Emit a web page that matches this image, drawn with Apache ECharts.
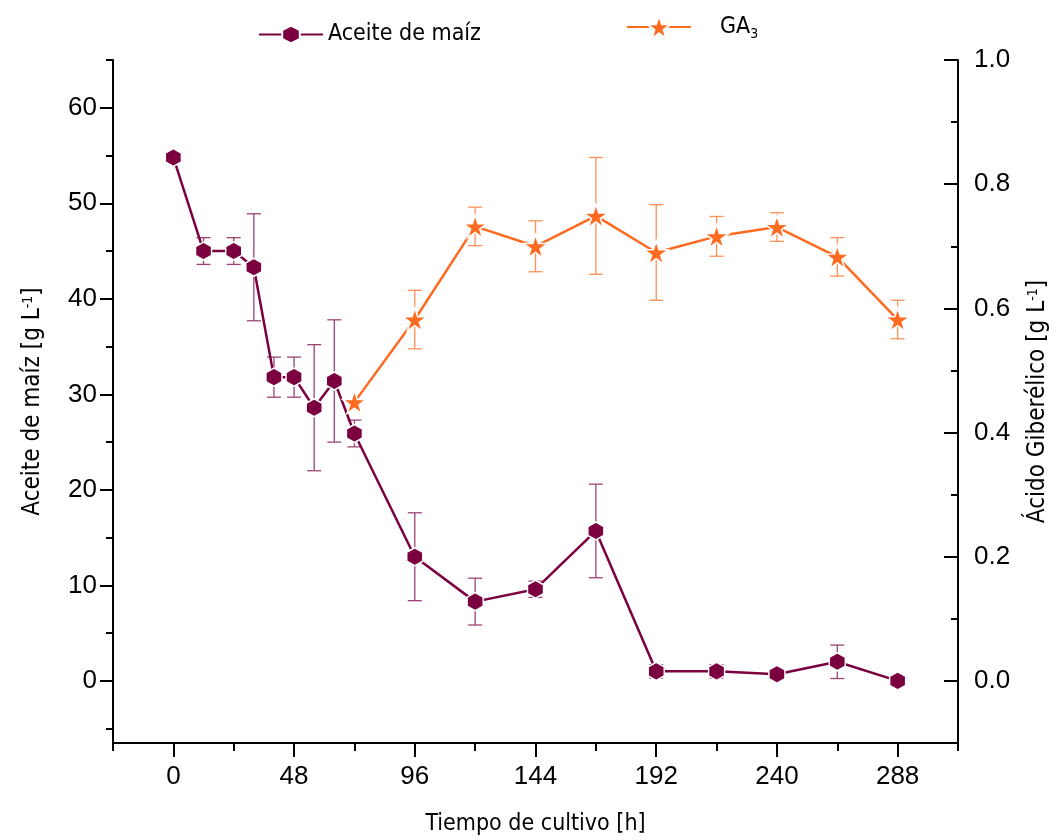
<!DOCTYPE html>
<html>
<head>
<meta charset="utf-8">
<title>Aceite de maíz / GA3</title>
<script src="https://cdn.jsdelivr.net/npm/echarts@6/dist/echarts.min.js"></script>
<style>
  html, body { margin: 0; padding: 0; background: #fff; }
  #chart { width: 1063px; height: 840px; }
</style>
</head>
<body>
<div id="chart"></div>
<script>
  // datos
  var tiempoAceite = [0, 12, 24, 32, 40, 48, 56, 64, 72, 96, 120, 144, 168, 192, 216, 240, 264, 288]
  var aceite = [54.8, 45.0, 45.0, 43.3, 31.8, 31.8, 28.6, 31.4, 25.9, 13.0, 8.3, 9.6, 15.7, 1.0, 1.0, 0.7, 2.0, 0.0]
  var aceiteErr = [0, 1.4, 1.4, 5.6, 2.1, 2.1, 6.6, 6.4, 1.4, 4.6, 2.45, 0.85, 4.9, 0.7, 0.7, 0, 1.75, 0]

  var tiempoGA = [72, 96, 120, 144, 168, 192, 216, 240, 264, 288]
  var ga3 = [0.449, 0.582, 0.732, 0.700, 0.749, 0.690, 0.716, 0.731, 0.683, 0.582]
  var ga3Err = [0, 0.047, 0.031, 0.041, 0.094, 0.077, 0.032, 0.023, 0.031, 0.031]

  // ticks
  var xMajor = [0, 48, 96, 144, 192, 240, 288]
  var xMinor = [-24, 24, 72, 120, 168, 216, 264, 312]
  var yLeftMajor = [0, 10, 20, 30, 40, 50, 60]
  var yLeftMinor = [-5, 5, 15, 25, 35, 45, 55, 65]
  var yRightMajor = [0, 0.2, 0.4, 0.6, 0.8, 1.0]
  var yRightMinor = [-0.1, 0.1, 0.3, 0.5, 0.7, 0.9]

  var COLOR_ACEITE = '#7b0040'
  var COLOR_GA = '#ff6a21'
  var NARROW = "'Liberation Sans Narrow', 'DejaVu Sans Condensed', sans-serif"
  var ARIAL = "'Liberation Sans', Arial, sans-serif"

  var hexagon = 'path://M0,-10L8.66,-5L8.66,5L0,10L-8.66,5L-8.66,-5Z'
  var star = 'path://M0,-100L22.45,-30.9L95.1,-30.9L36.3,11.8L58.8,80.9L0,38.2L-58.8,80.9L-36.3,11.8L-95.1,-30.9L-22.45,-30.9Z'

  function pares(xs, ys) {
    return xs.map(function (x, i) { return [x, ys[i]] })
  }
  function trios(xs, ys, es) {
    return xs.map(function (x, i) { return [x, ys[i], es[i]] })
  }

  // barras de error
  function errorBar(color) {
    return function (params, api) {
      var e = api.value(2)
      if (!e) return null
      var x = api.value(0), y = api.value(1)
      var top = api.coord([x, y + e])
      var bot = api.coord([x, y - e])
      var w = 7
      var st = { stroke: color, lineWidth: 1.3 }
      return {
        type: 'group',
        children: [
          { type: 'line', shape: { x1: top[0], y1: top[1], x2: bot[0], y2: bot[1] }, style: st },
          { type: 'line', shape: { x1: top[0] - w, y1: top[1], x2: top[0] + w, y2: top[1] }, style: st },
          { type: 'line', shape: { x1: bot[0] - w, y1: bot[1], x2: bot[0] + w, y2: bot[1] }, style: st }
        ]
      }
    }
  }

  var axisLine = { show: true, onZero: false, lineStyle: { color: '#000', width: 2 } }
  var noLine = { show: false, onZero: false }
  var tickStyle = { color: '#000', width: 2 }
  var subRich = {
    sub: { fontSize: 14, fontFamily: NARROW, padding: [14, 0, 0, 0], color: '#000' },
    sup: { fontSize: 14, fontFamily: NARROW, padding: [0, 0, 10, 0], color: '#000' }
  }

  var option = {
    animation: false,
    backgroundColor: '#fff',
    grid: { left: 113, right: 105, top: 60, bottom: 97, outerBoundsMode: 'none' },
    legend: [{
      data: ['Aceite de maíz'],
      left: 253,
      top: 18,
      itemWidth: 64,
      itemHeight: 22,
      textStyle: { fontSize: 23, fontFamily: NARROW, color: '#000' }
    }, {
      data: ['GA3'],
      left: 621,
      top: 9,
      itemWidth: 64,
      itemHeight: 30,
      formatter: 'GA{sub|3}',
      textStyle: { fontSize: 23, fontFamily: NARROW, color: '#000', rich: subRich, padding: [0, 0, 0, 24] }
    }],
    xAxis: [{
      type: 'value',
      min: -24,
      max: 312,
      position: 'bottom',
      axisLine: axisLine,
      axisTick: { show: true, customValues: xMinor, length: 8, lineStyle: tickStyle },
      axisLabel: { show: false },
      splitLine: { show: false }
    }, {
      type: 'value',
      min: -24,
      max: 312,
      position: 'bottom',
      axisLine: noLine,
      axisTick: { show: true, customValues: xMajor, length: 14, lineStyle: tickStyle },
      axisLabel: { customValues: xMajor, fontSize: 26, fontFamily: ARIAL, color: '#000', margin: 21 },
      splitLine: { show: false },
      name: 'Tiempo de cultivo [h]',
      nameLocation: 'middle',
      nameGap: 70,
      nameTextStyle: { fontSize: 23, fontFamily: NARROW, color: '#000' }
    }],
    yAxis: [{
      type: 'value',
      min: -6.5,
      max: 65,
      position: 'left',
      axisLine: axisLine,
      axisTick: { show: true, customValues: yLeftMinor, length: 7, lineStyle: tickStyle },
      axisLabel: { show: false },
      splitLine: { show: false }
    }, {
      type: 'value',
      min: -6.5,
      max: 65,
      position: 'left',
      axisLine: noLine,
      axisTick: { show: true, customValues: yLeftMajor, length: 13, lineStyle: tickStyle },
      axisLabel: { customValues: yLeftMajor, fontSize: 26, fontFamily: ARIAL, color: '#000', margin: 16 },
      splitLine: { show: false },
      name: 'Aceite de maíz [g L{sup|-1}]',
      nameLocation: 'middle',
      nameRotate: 90,
      nameGap: 68,
      nameTextStyle: { fontSize: 24, fontFamily: NARROW, color: '#000', rich: subRich }
    }, {
      type: 'value',
      min: -0.1,
      max: 1.0,
      position: 'right',
      axisLine: axisLine,
      axisTick: { show: true, inside: true, customValues: yRightMinor, length: 7, lineStyle: tickStyle },
      axisLabel: { show: false },
      splitLine: { show: false }
    }, {
      type: 'value',
      min: -0.1,
      max: 1.0,
      position: 'right',
      axisLine: noLine,
      axisTick: { show: true, inside: true, customValues: yRightMajor, length: 14, lineStyle: tickStyle },
      axisLabel: {
        customValues: yRightMajor, fontSize: 26, fontFamily: ARIAL, color: '#000', margin: 16,
        formatter: function (v) { return v.toFixed(1) }
      },
      splitLine: { show: false },
      name: 'Ácido Giberélico [g L{sup|-1}]',
      nameLocation: 'middle',
      nameRotate: 90,
      nameGap: 68,
      nameTextStyle: { fontSize: 24, fontFamily: NARROW, color: '#000', rich: subRich }
    }],
    series: [{
      type: 'custom',
      name: 'errAceite',
      xAxisIndex: 0,
      yAxisIndex: 0,
      renderItem: errorBar('#9c4474'),
      data: trios(tiempoAceite, aceite, aceiteErr),
      z: 1,
      silent: true
    }, {
      type: 'custom',
      name: 'errGA',
      xAxisIndex: 0,
      yAxisIndex: 2,
      renderItem: errorBar('#ff9056'),
      data: trios(tiempoGA, ga3, ga3Err),
      z: 1,
      silent: true
    }, {
      name: 'Aceite de maíz',
      type: 'line',
      xAxisIndex: 0,
      yAxisIndex: 0,
      data: pares(tiempoAceite, aceite),
      symbol: hexagon,
      symbolSize: [16, 18],
      showAllSymbol: true,
      color: COLOR_ACEITE,
      lineStyle: { color: COLOR_ACEITE, width: 2.5 },
      itemStyle: { color: COLOR_ACEITE, borderColor: '#fff', borderWidth: 1.5 },
      z: 3
    }, {
      name: 'GA3',
      type: 'line',
      xAxisIndex: 0,
      yAxisIndex: 2,
      data: pares(tiempoGA, ga3),
      symbol: star,
      symbolSize: [24, 23],
      showAllSymbol: true,
      color: COLOR_GA,
      lineStyle: { color: COLOR_GA, width: 2.5 },
      itemStyle: { color: COLOR_GA, borderColor: '#fff', borderWidth: 1.5 },
      z: 4
    }]
  }

  var myChart = echarts.init(document.getElementById('chart'), null, { renderer: 'canvas' })
  myChart.setOption(option)
</script>
</body>
</html>
